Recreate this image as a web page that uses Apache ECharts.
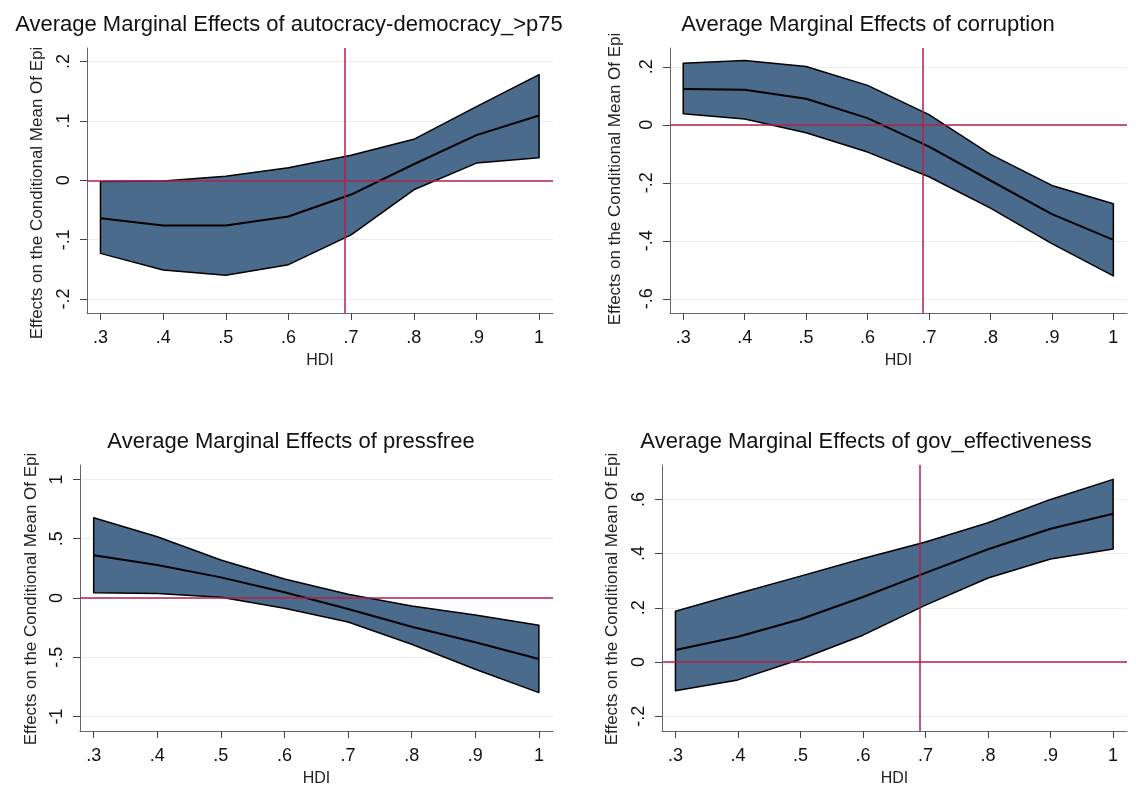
<!DOCTYPE html>
<html>
<head>
<meta charset="utf-8">
<script src="https://cdn.jsdelivr.net/npm/echarts@6/dist/echarts.min.js"></script>
<style>
html,body{margin:0;padding:0;background:#fff;}
#chart{width:1136px;height:801px;}
</style>
</head>
<body>
<div id="chart"></div>
<script>
// ---- data ----
const hdi = [0.3, 0.4, 0.5, 0.6, 0.7, 0.8, 0.9, 1.0];
const xTicks = [0.3, 0.4, 0.5, 0.6, 0.7, 0.8, 0.9, 1.0];

const titles = [
  'Average Marginal Effects of autocracy-democracy_>p75',
  'Average Marginal Effects of corruption',
  'Average Marginal Effects of pressfree',
  'Average Marginal Effects of gov_effectiveness'
];
const yTitle = 'Effects on the Conditional Mean Of Epi';
const xTitle = 'HDI';

const autocracyUpper = [-0.002, -0.001, 0.007, 0.021, 0.042, 0.069, 0.124, 0.178];
const autocracyMean  = [-0.064, -0.076, -0.076, -0.061, -0.024, 0.027, 0.076, 0.109];
const autocracyLower = [-0.123, -0.151, -0.160, -0.142, -0.092, -0.016, 0.029, 0.038];

const corruptionUpper = [0.212, 0.222, 0.201, 0.136, 0.035, -0.102, -0.209, -0.272];
const corruptionMean  = [0.124, 0.121, 0.090, 0.023, -0.075, -0.192, -0.308, -0.397];
const corruptionLower = [0.038, 0.020, -0.027, -0.094, -0.179, -0.287, -0.410, -0.521];

const pressUpper = [0.677, 0.517, 0.320, 0.160, 0.031, -0.067, -0.143, -0.230];
const pressMean  = [0.360, 0.278, 0.174, 0.048, -0.093, -0.242, -0.374, -0.514];
const pressLower = [0.045, 0.039, 0.006, -0.087, -0.202, -0.390, -0.601, -0.798];

const govUpper = [0.187, 0.253, 0.317, 0.382, 0.443, 0.514, 0.600, 0.674];
const govMean  = [0.044, 0.093, 0.158, 0.240, 0.329, 0.416, 0.492, 0.547];
const govLower = [-0.106, -0.066, 0.010, 0.099, 0.210, 0.310, 0.380, 0.417];

const yTicks1 = [-0.2, -0.1, 0, 0.1, 0.2];
const yTicks2 = [-0.6, -0.4, -0.2, 0, 0.2];
const yTicks3 = [-1, -0.5, 0, 0.5, 1];
const yTicks4 = [-0.2, 0, 0.2, 0.4, 0.6];

const yRange1 = [-0.2234, 0.2227];
const yRange2 = [-0.649, 0.265];
const yRange3 = [-1.122, 1.122];
const yRange4 = [-0.2546, 0.727];
const xRange = [0.2785, 1.0222];

const refZero = 0;
const refHDI = 0.689;

// ---- layout ----
const panels = [
  {up: autocracyUpper, mean: autocracyMean, lo: autocracyLower, yt: yTicks1, yr: yRange1, vline: true,
   grid: {left: 87, top: 48, width: 466, height: 265}, titleX: 284, titleY: 9, ytX: 37, ytY: 193},
  {up: corruptionUpper, mean: corruptionMean, lo: corruptionLower, yt: yTicks2, yr: yRange2, vline: true,
   grid: {left: 670, top: 48, width: 457, height: 265}, titleX: 863, titleY: 9, ytX: 615, ytY: 179},
  {up: pressUpper, mean: pressMean, lo: pressLower, yt: yTicks3, yr: yRange3, vline: false,
   grid: {left: 80, top: 465, width: 473, height: 266}, titleX: 286, titleY: 426, ytX: 31, ytY: 599},
  {up: govUpper, mean: govMean, lo: govLower, yt: yTicks4, yr: yRange4, vline: true,
   grid: {left: 662, top: 465, width: 465, height: 266}, titleX: 861, titleY: 426, ytX: 612, ytY: 599}
];

const FONT = '"Liberation Sans", Arial, sans-serif';
const BAND = '#4a6b8c';
const RED = '#b0214b';

function fmt(v) {
  const r = Math.round(v * 100) / 100;
  return String(r).replace(/^(-?)0\./, '$1.');
}

const option = {
  backgroundColor: '#ffffff',
  animation: false,
  title: [], grid: [], xAxis: [], yAxis: [], series: [], graphic: []
};

panels.forEach(function (p, i) {
  option.title.push({
    text: titles[i], left: p.titleX, top: p.titleY, textAlign: 'center',
    textStyle: {fontFamily: FONT, fontSize: 22, fontWeight: 'normal', color: '#111'}
  });
  option.grid.push(Object.assign({containLabel: false}, p.grid));
  option.xAxis.push({
    type: 'value', gridIndex: i, min: xRange[0], max: xRange[1],
    name: xTitle, nameLocation: 'middle', nameGap: 40,
    nameTextStyle: {fontFamily: FONT, fontSize: 16, color: '#222'},
    axisLine: {show: true, onZero: false, lineStyle: {color: '#666', width: 1}},
    axisTick: {show: true, length: 7, customValues: xTicks, lineStyle: {color: '#444'}},
    axisLabel: {customValues: xTicks, formatter: fmt, margin: 16,
      fontFamily: FONT, fontSize: 18, color: '#111'},
    splitLine: {show: false}
  });
  option.yAxis.push({
    type: 'value', gridIndex: i, min: p.yr[0], max: p.yr[1],
    axisLine: {show: true, onZero: false, lineStyle: {color: '#666', width: 1}},
    axisTick: {show: true, length: 7, customValues: p.yt, lineStyle: {color: '#444'}},
    axisLabel: {customValues: p.yt, formatter: fmt, rotate: 90, margin: 14,
      fontFamily: FONT, fontSize: 18, color: '#111'},
    splitLine: {show: true, lineStyle: {color: '#e9edf0', width: 1}}
  });
  option.graphic.push({
    type: 'text', x: p.ytX, y: p.ytY, rotation: Math.PI / 2,
    style: {text: yTitle, fontFamily: FONT, fontSize: 17, fill: '#222',
      align: 'center', verticalAlign: 'middle'}
  });

  const mlData = [{yAxis: refZero}];
  if (p.vline) mlData.push({xAxis: refHDI});
  // reference lines (beneath the band)
  option.series.push({
    type: 'line', xAxisIndex: i, yAxisIndex: i, z: 1, silent: true,
    data: hdi.map(function (x, k) { return [x, p.lo[k]]; }),
    symbol: 'none', lineStyle: {opacity: 0},
    markLine: {silent: true, symbol: 'none', label: {show: false},
      lineStyle: {color: RED, width: 1.5, type: 'solid'}, data: mlData}
  });
  // confidence band
  option.series.push({
    type: 'custom', xAxisIndex: i, yAxisIndex: i, z: 2, silent: true,
    data: [[hdi[0], p.mean[0]]],
    renderItem: function (params, api) {
      const pts = [];
      for (let k = 0; k < hdi.length; k++) pts.push(api.coord([hdi[k], p.up[k]]));
      for (let k = hdi.length - 1; k >= 0; k--) pts.push(api.coord([hdi[k], p.lo[k]]));
      return {type: 'polygon', shape: {points: pts},
        style: {fill: BAND, stroke: '#000', lineWidth: 1.5, lineJoin: 'round'}};
    }
  });
  // mean line
  option.series.push({
    type: 'line', xAxisIndex: i, yAxisIndex: i, z: 3, silent: true,
    data: hdi.map(function (x, k) { return [x, p.mean[k]]; }),
    symbol: 'none', lineStyle: {color: '#000', width: 2}
  });
});

const chart = echarts.init(document.getElementById('chart'), null, {renderer: 'canvas'});
chart.setOption(option);
</script>
</body>
</html>
